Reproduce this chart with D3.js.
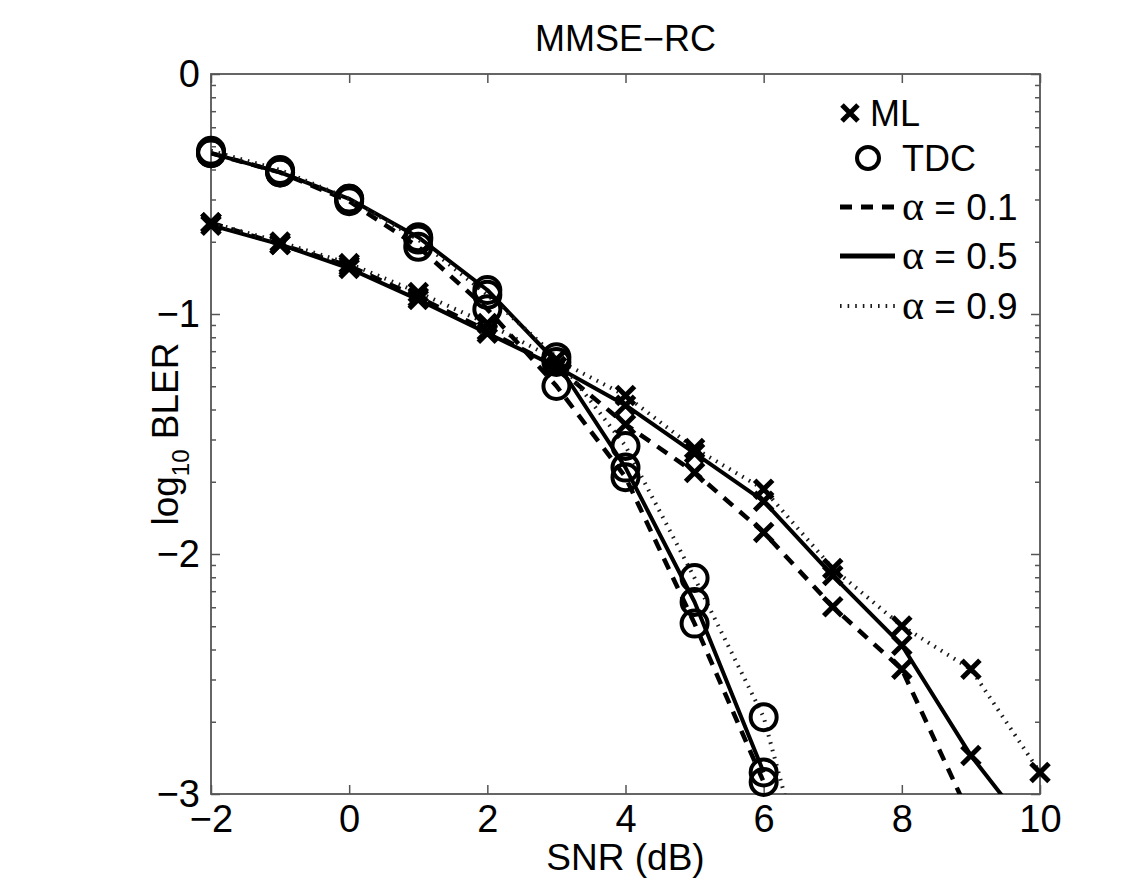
<!DOCTYPE html>
<html>
<head>
<meta charset="utf-8">
<script src="https://cdn.jsdelivr.net/npm/d3@7"></script>
<style>
  html, body { margin: 0; padding: 0; background: #fff; }
  svg { display: block; }
  text { font-family: "Liberation Sans", Arial, sans-serif; fill: #000; }
</style>
</head>
<body>
<svg id="chart" width="1143" height="881"></svg>
<script>
// ---------------- data ----------------
const chartTitle = "MMSE\u2212RC";
const xTicks = [-2, 0, 2, 4, 6, 8, 10];
const yTicks = [0, -1, -2, -3];

const snrML = [-2, -1, 0, 1, 2, 3, 4, 5, 6, 7, 8, 9, 10];
const mlAlpha01 = [-0.62, -0.71, -0.80, -0.93, -1.07, -1.22, -1.46, -1.66, -1.91, -2.22, -2.48, -3.10, null];
const mlAlpha05 = [-0.63, -0.71, -0.81, -0.94, -1.08, -1.22, -1.38, -1.58, -1.78, -2.09, -2.38, -2.84, -3.21];
const mlAlpha09 = [-0.62, -0.70, -0.79, -0.91, -1.04, -1.19, -1.34, -1.56, -1.73, -2.06, -2.30, -2.48, -2.91];

const snrTDC = [-2, -1, 0, 1, 2, 3, 4, 5, 6, 7];
const tdcAlpha01 = [-0.33, -0.41, -0.53, -0.72, -0.98, -1.30, -1.68, -2.29, -2.95, null];
const tdcAlpha05 = [-0.33, -0.41, -0.52, -0.68, -0.90, -1.20, -1.64, -2.20, -2.91, null];
const tdcAlpha09 = [-0.32, -0.40, -0.52, -0.69, -0.92, -1.18, -1.55, -2.10, -2.68, -3.75];

const alphaLabels = ["0.1", "0.5", "0.9"];
const schemeLabels = ["ML", "TDC"];

// ---------------- layout ----------------
const svg = d3.select("#chart");
const L = 211, R = 1040, T = 74, B = 794;
const x = d3.scaleLinear().domain([-2, 10]).range([L, R]);
const y = d3.scaleLinear().domain([-3, 0]).range([B, T]);

const styles = {
  "0.1": { dash: "12 9", width: 4.5, color: "#000" },
  "0.5": { dash: null, width: 4, color: "#000" },
  "0.9": { dash: "1.6 6", width: 4, color: "#1a1a1a" }
};

const series = [
  { scheme: "ML", alpha: "0.1", xs: snrML, ys: mlAlpha01 },
  { scheme: "ML", alpha: "0.5", xs: snrML, ys: mlAlpha05 },
  { scheme: "ML", alpha: "0.9", xs: snrML, ys: mlAlpha09 },
  { scheme: "TDC", alpha: "0.1", xs: snrTDC, ys: tdcAlpha01 },
  { scheme: "TDC", alpha: "0.5", xs: snrTDC, ys: tdcAlpha05 },
  { scheme: "TDC", alpha: "0.9", xs: snrTDC, ys: tdcAlpha09 }
];

svg.append("defs").append("clipPath").attr("id", "plotClip")
  .append("rect").attr("x", L).attr("y", T).attr("width", R - L).attr("height", B - T);

// ---------------- axes ----------------
const axisColor = "#555";
const fontSize = 36;
const tickFont = 38;
const minorY = [];
for (let d = 0; d > -3; d--) {
  for (let k = 2; k <= 9; k++) minorY.push(d - 1 + Math.log10(k));
}

function styleAxis(g) {
  g.select(".domain").remove();
  g.selectAll(".tick line").attr("stroke", axisColor).attr("stroke-width", 1.5);
  g.selectAll("text").attr("font-size", tickFont).attr("font-family", "Liberation Sans, Arial, sans-serif").attr("fill", "#000");
}

const fmt = d3.format("d");
svg.append("g").attr("transform", `translate(0,${B})`)
  .call(d3.axisBottom(x).tickValues(xTicks).tickSize(-9).tickPadding(11).tickFormat(fmt))
  .call(styleAxis);
svg.append("g").attr("transform", `translate(0,${T})`)
  .call(d3.axisTop(x).tickValues(xTicks).tickSize(-9).tickFormat(""))
  .call(styleAxis);
svg.append("g").attr("transform", `translate(${L},0)`)
  .call(d3.axisLeft(y).tickValues(yTicks).tickSize(-9).tickPadding(11).tickFormat(fmt))
  .call(styleAxis);
svg.append("g").attr("transform", `translate(${R},0)`)
  .call(d3.axisRight(y).tickValues(yTicks).tickSize(-9).tickFormat(""))
  .call(styleAxis);
svg.append("g").attr("transform", `translate(${L},0)`)
  .call(d3.axisLeft(y).tickValues(minorY).tickSize(-5).tickFormat(""))
  .call(styleAxis);
svg.append("g").attr("transform", `translate(${R},0)`)
  .call(d3.axisRight(y).tickValues(minorY).tickSize(-5).tickFormat(""))
  .call(styleAxis);

svg.append("rect").attr("x", L).attr("y", T).attr("width", R - L).attr("height", B - T)
  .attr("fill", "none").attr("stroke", axisColor).attr("stroke-width", 1.8);

// ---------------- lines ----------------
const line = d3.line()
  .defined(d => d[1] !== null)
  .x(d => x(d[0])).y(d => y(d[1]));

const plot = svg.append("g");
series.forEach(s => {
  const st = styles[s.alpha];
  const pts = s.xs.map((v, i) => [v, s.ys[i]]);
  plot.append("path")
    .attr("clip-path", "url(#plotClip)")
    .attr("d", line(pts))
    .attr("fill", "none")
    .attr("stroke", st.color)
    .attr("stroke-width", st.width)
    .attr("stroke-dasharray", st.dash)
    .attr("stroke-linejoin", "round");
});

// ---------------- markers ----------------
function drawCross(g, cx, cy, h) {
  g.append("path")
    .attr("d", `M${cx - h},${cy - h}L${cx + h},${cy + h}M${cx - h},${cy + h}L${cx + h},${cy - h}`)
    .attr("stroke", "#000").attr("stroke-width", 5).attr("fill", "none");
}
function drawCircle(g, cx, cy, r) {
  g.append("circle").attr("cx", cx).attr("cy", cy).attr("r", r)
    .attr("stroke", "#000").attr("stroke-width", 4).attr("fill", "none");
}
const marks = svg.append("g");
series.forEach(s => {
  s.xs.forEach((v, i) => {
    const val = s.ys[i];
    if (val === null || val < -3 || val > 0) return;
    if (s.scheme === "ML") drawCross(marks, x(v), y(val), 9);
    else drawCircle(marks, x(v), y(val), 13);
  });
});

// ---------------- legend ----------------
const lg = svg.append("g");
const legendRows = [113, 158, 207, 256, 306];
drawCross(lg, 850, legendRows[0], 8);
lg.append("text").attr("x", 870).attr("y", legendRows[0]).attr("dy", "0.35em")
  .attr("font-size", fontSize).text(schemeLabels[0]);
drawCircle(lg, 868, legendRows[1], 11);
lg.append("text").attr("x", 902).attr("y", legendRows[1]).attr("dy", "0.35em")
  .attr("font-size", fontSize).text(schemeLabels[1]);
alphaLabels.forEach((a, i) => {
  const st = styles[a];
  const yy = legendRows[2 + i];
  lg.append("line").attr("x1", 840).attr("x2", 895).attr("y1", yy).attr("y2", yy)
    .attr("stroke", st.color).attr("stroke-width", a === "0.9" ? 4 : 5)
    .attr("stroke-dasharray", st.dash);
  const t = lg.append("text").attr("x", 902).attr("y", yy).attr("dy", "0.35em").attr("font-size", fontSize + 1);
  t.append("tspan").attr("font-family", "Liberation Serif, serif").attr("font-size", 42).text("\u03b1");
  t.append("tspan").text(" = " + a);
});

// ---------------- titles ----------------
svg.append("text").attr("x", (L + R) / 2).attr("y", 38).attr("dy", "0.35em")
  .attr("text-anchor", "middle").attr("font-size", fontSize).text(chartTitle);
svg.append("text").attr("x", (L + R) / 2).attr("y", 857).attr("dy", "0.35em")
  .attr("text-anchor", "middle").attr("font-size", 37).text("SNR (dB)");
const yl = svg.append("text")
  .attr("transform", `translate(165,${(T + B) / 2}) rotate(-90)`)
  .attr("text-anchor", "middle").attr("dy", "0.35em").attr("font-size", 37);
yl.append("tspan").text("log");
yl.append("tspan").attr("font-size", 24).attr("dy", "0.45em").text("10");
yl.append("tspan").attr("dy", "-0.3em").text(" BLER");
</script>
</body>
</html>
